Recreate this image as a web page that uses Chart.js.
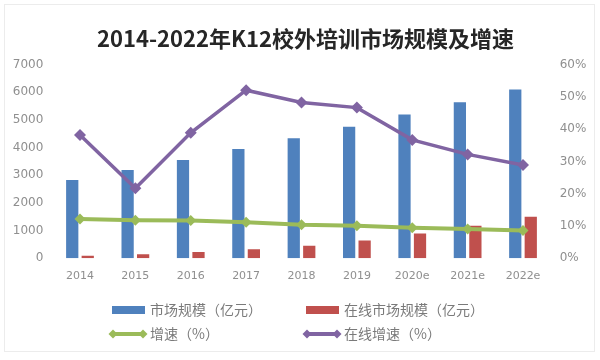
<!DOCTYPE html>
<html>
<head>
<meta charset="utf-8">
<script src="https://cdn.jsdelivr.net/npm/chart.js@4"></script>
<style>
  html, body { margin: 0; padding: 0; background: #fff; }
  #wrap { position: relative; width: 600px; height: 360px; overflow: hidden; }
  #frame { position: absolute; left: 4px; top: 4px; width: 591px; height: 348px; border: 1px solid #ececec; box-sizing: border-box; pointer-events: none; }
  canvas { position: absolute; left: 0; top: 0; }
  .lg { position: absolute; font-family: "Noto Sans CJK SC", sans-serif; font-size: 14px; color: #7a7a7a; line-height: 16px; white-space: nowrap; }
  .lg .mk { position: absolute; top: 0; width: 40px; height: 16px; }
  .lg .tx { position: absolute; top: -1px; }
</style>
</head>
<body>
<div id="wrap">
  <canvas id="c" width="600" height="360"></canvas>
  <div id="frame"></div>
  <div id="legend"></div>
</div>
<script>
// ---- data ----
const categories = ["2014", "2015", "2016", "2017", "2018", "2019", "2020e", "2021e", "2022e"];
const marketSize = [2830, 3190, 3550, 3950, 4340, 4760, 5200, 5640, 6100];
const onlineMarketSize = [95, 145, 230, 325, 455, 640, 900, 1180, 1505];
const growthRate = [12.2, 11.8, 11.7, 11.2, 10.4, 10.1, 9.5, 9.1, 8.6];
const onlineGrowthRate = [38.2, 21.7, 38.9, 52.1, 48.3, 46.7, 36.7, 32.2, 28.9];
const leftTicks = [0, 1000, 2000, 3000, 4000, 5000, 6000, 7000];
const rightTicks = [0, 10, 20, 30, 40, 50, 60];
const seriesNames = ["市场规模（亿元）", "在线市场规模（亿元）", "增速（%）", "在线增速（%）"];
const titleText = "2014-2022年K12校外培训市场规模及增速";

const BLUE = "#4F81BD", RED = "#C0504D", GREEN = "#9BBB59", PURPLE = "#8064A2";
const tickColor = "#8f8f8f";

const chart = new Chart(document.getElementById("c"), {
  type: "bar",
  data: {
    labels: categories,
    datasets: [
      { type: "bar", label: seriesNames[0], data: marketSize, backgroundColor: BLUE, yAxisID: "y", order: 2,
        categoryPercentage: 0.56, barPercentage: 0.79 },
      { type: "bar", label: seriesNames[1], data: onlineMarketSize, backgroundColor: RED, yAxisID: "y", order: 2,
        categoryPercentage: 0.56, barPercentage: 0.79 },
      { type: "line", label: seriesNames[2], data: growthRate, borderColor: GREEN, backgroundColor: GREEN, yAxisID: "y1",
        borderWidth: 4, pointStyle: "rectRot", pointRadius: 5.5, pointBorderWidth: 0, tension: 0, order: 1 },
      { type: "line", label: seriesNames[3], data: onlineGrowthRate, borderColor: PURPLE, backgroundColor: PURPLE, yAxisID: "y1",
        borderWidth: 3.5, pointStyle: "rectRot", pointRadius: 6, pointBorderWidth: 0, tension: 0, order: 0 }
    ]
  },
  options: {
    responsive: false,
    animation: false,
    devicePixelRatio: 1,
    layout: { padding: { left: 11, right: 0, top: 0, bottom: 71.7 } },
    plugins: {
      legend: { display: false },
      tooltip: { enabled: false },
      title: {
        display: true, text: titleText, color: "#262626",
        font: { family: "'Noto Sans CJK SC', sans-serif", size: 22, weight: "bold", lineHeight: 1.2 },
        padding: { top: 25.8, bottom: 12.5 }
      }
    },
    scales: {
      x: {
        grid: { display: false, drawTicks: false },
        border: { display: false },
        ticks: { color: tickColor, font: { family: "'DejaVu Sans'", size: 11 }, padding: 11, maxRotation: 0, autoSkip: false },
        afterFit: s => { s.height = 30; }
      },
      y: {
        position: "left", min: 0, max: 7000,
        grid: { display: false, drawTicks: false },
        border: { display: false },
        afterBuildTicks: s => { s.ticks = leftTicks.map(v => ({ value: v })); },
        ticks: { color: tickColor, font: { family: "'DejaVu Sans'", size: 12 }, padding: 9, callback: v => String(v) },
        afterFit: s => { s.width = 41.3; }
      },
      y1: {
        position: "right", min: 0, max: 60,
        grid: { display: false, drawTicks: false },
        border: { display: false },
        afterBuildTicks: s => { s.ticks = rightTicks.map(v => ({ value: v })); },
        ticks: { color: tickColor, font: { family: "'DejaVu Sans'", size: 12 }, padding: 9, callback: v => v + "%" },
        afterFit: s => { s.width = 49.3; }
      }
    }
  }
});

// ---- HTML legend built from the chart's datasets ----
const legendPos = [
  { left: 108, top: 302 }, { left: 302, top: 302 },
  { left: 108, top: 326 }, { left: 302, top: 326 }
];
const lg = document.getElementById("legend");
chart.data.datasets.forEach((ds, i) => {
  const item = document.createElement("div");
  item.className = "lg";
  item.style.left = legendPos[i].left + "px";
  item.style.top = legendPos[i].top + "px";
  const mk = document.createElement("canvas");
  mk.className = "mk"; mk.width = 40; mk.height = 16;
  const g = mk.getContext("2d");
  if (ds.type === "bar") {
    g.fillStyle = ds.backgroundColor; g.fillRect(4, 4, 33, 8);
  } else {
    g.strokeStyle = ds.borderColor; g.lineWidth = 4;
    g.beginPath(); g.moveTo(5, 8); g.lineTo(35, 8); g.stroke();
    g.fillStyle = ds.borderColor;
    [5, 35].forEach(x => { g.beginPath(); g.moveTo(x, 3.5); g.lineTo(x + 4.5, 8); g.lineTo(x, 12.5); g.lineTo(x - 4.5, 8); g.closePath(); g.fill(); });
  }
  const tx = document.createElement("span");
  tx.className = "tx"; tx.style.left = "42px"; tx.textContent = ds.label;
  item.appendChild(mk); item.appendChild(tx);
  lg.appendChild(item);
});
</script>
</body>
</html>
